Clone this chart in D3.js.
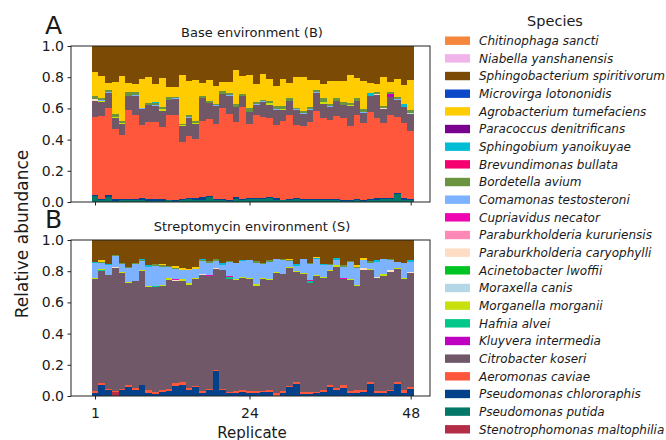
<!DOCTYPE html>
<html><head><meta charset="utf-8">
<script src="https://cdn.jsdelivr.net/npm/d3@7"></script>
<style>body{margin:0;background:#fff}svg{display:block}text{font-family:"DejaVu Sans",sans-serif;fill:#1a1a1a}</style>
</head><body><svg id="c" width="666" height="440"></svg>
<script>
// ---------------- data ----------------
const replicates = d3.range(1, 49);
const xTickValues = [1, 24, 48];
const yTickValues = [0, 0.2, 0.4, 0.6, 0.8, 1.0];
const panelTitles = ["Base environment (B)", "Streptomycin environment (S)"];
const panelLetters = ["A", "B"];

const species = ["Chitinophaga sancti","Niabella yanshanensis","Sphingobacterium spiritivorum","Microvirga lotononidis","Agrobacterium tumefaciens","Paracoccus denitrificans","Sphingobium yanoikuyae","Brevundimonas bullata","Bordetella avium","Comamonas testosteroni","Cupriavidus necator","Paraburkholderia kururiensis","Paraburkholderia caryophylli","Acinetobacter lwoffii","Moraxella canis","Morganella morganii","Hafnia alvei","Kluyvera intermedia","Citrobacter koseri","Aeromonas caviae","Pseudomonas chlororaphis","Pseudomonas putida","Stenotrophomonas maltophilia"];
const speciesColors = ["#f5873d","#f0b3ea","#7b4a05","#0a47c9","#ffcc00","#7a0090","#00bcd4","#f5006e","#6a9440","#7cb2ff","#ee05b0","#ff88b6","#ffdcc4","#00c423","#b5d8e6","#c8e00c","#00c88a","#c000c0","#705868","#ff573b","#03428a","#037868","#b52c46"];

// Base environment (B)
const base_putida = [0.040,0.015,0.035,0.008,0.010,0.012,0.015,0.010,0.008,0.008,0.008,0.010,0.005,0.015,0.018,0.012,0.015,0.030,0.010,0.015,0.008,0.020,0.015,0.018,0.018,0.020,0.028,0.015,0.010,0.012,0.020,0.010,0.012,0.010,0.015,0.010,0.012,0.008,0.005,0.015,0.005,0.010,0.012,0.020,0.020,0.050,0.010,0.012];
const base_chlororaphis = [0.008,0.003,0.010,0.012,0.012,0.008,0.006,0.015,0.010,0.010,0.010,0.006,0.006,0.006,0.010,0.012,0.020,0.008,0.008,0.006,0.006,0.012,0.006,0.008,0.005,0.006,0.005,0.010,0.006,0.008,0.005,0.012,0.008,0.008,0.006,0.010,0.010,0.006,0.008,0.006,0.006,0.008,0.015,0.008,0.006,0.006,0.015,0.006];
const base_aeromonas = [0.497,0.533,0.560,0.450,0.410,0.572,0.539,0.471,0.497,0.497,0.460,0.539,0.544,0.366,0.398,0.383,0.486,0.491,0.485,0.584,0.553,0.483,0.589,0.474,0.536,0.522,0.506,0.470,0.504,0.539,0.470,0.465,0.494,0.565,0.519,0.508,0.532,0.526,0.475,0.537,0.498,0.560,0.513,0.480,0.532,0.490,0.483,0.439];
const base_citrobacter = [0.105,0.089,0.095,0.066,0.066,0.086,0.118,0.098,0.107,0.100,0.107,0.097,0.107,0.100,0.110,0.093,0.144,0.103,0.112,0.087,0.113,0.096,0.068,0.077,0.065,0.093,0.085,0.093,0.068,0.086,0.093,0.079,0.078,0.116,0.090,0.081,0.091,0.080,0.125,0.087,0.064,0.099,0.148,0.090,0.115,0.110,0.101,0.109];
const base_kluyvera = [0,0,0,0,0,0,0,0,0,0,0,0,0,0,0,0,0,0,0,0,0,0,0,0,0,0,0,0,0,0,0,0,0,0,0,0,0,0,0,0,0,0,0,0,0.017,0,0,0];
const base_morganella = [0,0.008,0,0.008,0.008,0,0,0,0,0,0.012,0,0,0.008,0.004,0.004,0,0,0,0,0,0,0,0,0,0,0.008,0,0.006,0,0,0,0,0,0.010,0,0,0,0.006,0,0,0,0,0,0,0,0,0];
const base_moraxella = [0,0,0,0,0,0,0,0,0,0,0,0,0,0,0,0,0,0,0,0,0,0,0,0,0,0,0,0,0,0,0,0,0,0,0,0,0,0,0,0,0,0,0,0,0,0,0,0.005];
const base_caryophylli = [0.008,0,0,0,0,0,0.004,0,0,0,0,0,0,0,0,0,0,0,0,0,0,0,0,0,0,0,0,0,0,0,0,0,0,0,0,0,0,0,0,0,0,0,0.004,0.004,0,0,0,0];
const base_comamonas = [0.004,0.004,0.006,0.004,0.000,0.003,0.004,0.006,0.003,0.005,0.000,0.003,0.003,0.000,0.004,0.000,0.003,0.000,0.004,0.003,0.004,0.000,0.004,0.003,0.004,0.004,0.004,0.005,0.000,0.000,0.010,0.005,0.004,0.004,0.004,0.004,0.003,0.004,0.000,0.003,0.006,0.003,0.000,0.000,0.004,0.004,0.000,0.000];
const base_bordetella = [0.015,0.012,0.012,0.015,0.015,0.025,0.022,0.003,0.010,0.012,0.012,0.018,0.010,0.008,0.012,0.015,0.012,0.015,0.010,0.015,0.012,0.015,0.012,0.025,0.015,0.012,0.012,0.020,0.020,0.020,0.003,0.015,0.012,0.016,0.020,0.016,0.020,0.020,0.018,0.020,0.014,0.000,0.016,0.016,0.010,0.012,0.000,0.020];
const base_sphingobium = [0,0,0.003,0,0,0,0,0,0,0.006,0,0,0,0,0.003,0,0,0,0,0,0,0,0,0,0,0,0,0,0,0,0,0,0,0,0,0,0,0,0,0,0,0.017,0,0,0,0,0.017,0];
const base_agrobacterium = [0.158,0.141,0.044,0.207,0.287,0.057,0.049,0.187,0.165,0.120,0.186,0.065,0.060,0.311,0.219,0.262,0.080,0.133,0.116,0.061,0.075,0.219,0.116,0.211,0.116,0.166,0.142,0.128,0.176,0.098,0.199,0.214,0.176,0.061,0.095,0.145,0.108,0.130,0.179,0.127,0.181,0.066,0.051,0.182,0.066,0.118,0.126,0.189];
const base_sphingobacterium = [0.165,0.195,0.235,0.230,0.192,0.237,0.243,0.210,0.200,0.242,0.205,0.262,0.265,0.186,0.222,0.219,0.240,0.220,0.255,0.229,0.229,0.155,0.190,0.184,0.241,0.177,0.210,0.259,0.210,0.237,0.200,0.200,0.216,0.220,0.241,0.226,0.224,0.226,0.184,0.205,0.226,0.237,0.241,0.200,0.230,0.210,0.248,0.220];

// Streptomycin environment (S)
const strep_stenotrophomonas = [0,0,0,0.025,0,0,0,0,0,0,0,0,0,0,0,0,0,0,0,0,0,0,0,0,0,0,0,0,0,0,0,0,0,0,0,0,0,0,0,0,0,0,0,0,0,0,0,0];
const strep_putida = [0,0,0,0,0,0,0,0,0,0,0,0,0,0,0,0,0,0,0,0,0,0,0.003,0,0,0.003,0,0,0,0,0,0,0,0,0,0,0,0,0.003,0,0,0,0,0,0,0,0,0];
const strep_chlororaphis = [0.020,0.070,0.040,0,0.040,0.058,0.040,0.070,0.020,0.015,0.025,0.035,0.064,0.070,0.040,0.055,0.020,0.040,0.160,0.040,0.022,0.020,0.025,0.022,0.020,0.020,0.025,0.000,0.020,0.055,0.080,0.015,0.015,0.020,0.025,0.057,0.040,0.053,0.015,0.020,0.025,0.080,0.020,0.020,0.030,0.080,0.020,0.043];
const strep_aeromonas = [0.012,0.013,0.002,0.010,0.005,0.012,0.013,0.002,0.018,0.012,0.015,0.010,0.019,0.020,0.010,0.012,0.010,0.005,0.004,0.005,0.006,0.012,0.010,0.008,0.010,0.012,0.015,0.020,0.010,0.010,0.010,0.008,0.012,0.008,0.012,0.013,0.010,0.020,0.015,0.018,0.015,0.010,0.010,0.012,0.010,0.012,0.018,0.012];
const strep_citrobacter = [0.716,0.720,0.734,0.788,0.745,0.656,0.682,0.731,0.662,0.669,0.665,0.699,0.654,0.648,0.662,0.685,0.746,0.725,0.651,0.761,0.724,0.713,0.718,0.718,0.675,0.713,0.701,0.770,0.752,0.758,0.705,0.761,0.699,0.741,0.719,0.730,0.779,0.675,0.711,0.667,0.770,0.720,0.724,0.737,0.755,0.720,0.710,0.731];
const strep_hafnia = [0,0.004,0,0,0,0,0,0,0,0.006,0,0,0,0,0,0,0,0,0,0,0.010,0,0,0,0,0,0,0,0,0,0,0,0.010,0,0,0,0,0,0,0,0,0,0,0,0,0,0,0];
const strep_morganella = [0.006,0.006,0,0,0.006,0.006,0.005,0.006,0.004,0,0.006,0.010,0,0.010,0.010,0.004,0,0,0,0,0,0.008,0.008,0.008,0.015,0.008,0.010,0.006,0,0.005,0.004,0.004,0,0.006,0.008,0.006,0.008,0,0.004,0.008,0,0.004,0,0.015,0,0.006,0.008,0];
const strep_caryophylli = [0,0,0,0.006,0,0,0,0,0.004,0,0,0,0.008,0,0,0,0.006,0,0.006,0.003,0,0,0,0,0,0,0,0,0,0,0,0,0,0,0,0,0,0,0,0,0.008,0,0.008,0,0.010,0,0,0.008];
const strep_cupriavidus = [0,0,0,0,0,0,0,0,0,0.006,0,0,0.004,0.004,0,0,0,0.006,0,0,0.006,0,0,0,0,0,0,0,0,0,0,0,0.006,0,0,0,0,0.006,0,0,0,0,0,0,0,0,0,0];
const strep_comamonas = [0.097,0.039,0.066,0.069,0.051,0.087,0.104,0.056,0.122,0.128,0.118,0.075,0.065,0.055,0.083,0.056,0.084,0.079,0.047,0.031,0.091,0.102,0.100,0.114,0.135,0.089,0.111,0.084,0.090,0.038,0.036,0.092,0.105,0.101,0.074,0.032,0.038,0.076,0.111,0.105,0.052,0.041,0.098,0.092,0.065,0.042,0.094,0.068];
const strep_bordetella = [0,0.004,0,0.006,0.008,0.006,0.006,0.008,0,0.008,0.008,0.006,0.006,0,0,0.004,0.006,0.010,0.008,0,0.006,0,0,0,0.010,0.010,0.010,0,0.004,0.008,0,0,0.008,0,0,0.010,0,0.008,0.006,0.010,0,0.010,0,0,0.010,0,0,0];
const strep_sphingobium = [0.008,0.004,0.006,0,0,0,0,0.003,0.008,0,0,0,0,0,0,0,0.008,0,0,0.010,0,0,0.008,0,0,0,0,0,0,0,0.010,0,0,0.008,0.010,0,0.010,0,0,0,0,0,0.010,0,0,0,0,0.010];
const strep_agrobacterium = [0,0.012,0,0,0,0,0,0,0,0,0.008,0,0.015,0.015,0.010,0.012,0,0,0,0,0,0,0,0,0,0,0,0,0,0.006,0,0,0,0.006,0,0,0,0,0,0.012,0.015,0,0,0,0,0,0,0];
const strep_sphingobacterium = [0.141,0.128,0.152,0.096,0.145,0.175,0.150,0.124,0.162,0.156,0.155,0.165,0.165,0.178,0.185,0.172,0.120,0.135,0.124,0.150,0.135,0.145,0.128,0.130,0.135,0.145,0.128,0.120,0.124,0.120,0.155,0.120,0.145,0.110,0.152,0.152,0.115,0.162,0.135,0.160,0.115,0.135,0.130,0.124,0.120,0.140,0.150,0.128];

// map species -> series for each panel
const baseSeries = new Map([
  ["Pseudomonas putida", base_putida], ["Pseudomonas chlororaphis", base_chlororaphis],
  ["Aeromonas caviae", base_aeromonas], ["Citrobacter koseri", base_citrobacter],
  ["Kluyvera intermedia", base_kluyvera], ["Morganella morganii", base_morganella],
  ["Moraxella canis", base_moraxella], ["Paraburkholderia caryophylli", base_caryophylli],
  ["Comamonas testosteroni", base_comamonas], ["Bordetella avium", base_bordetella],
  ["Sphingobium yanoikuyae", base_sphingobium], ["Agrobacterium tumefaciens", base_agrobacterium],
  ["Sphingobacterium spiritivorum", base_sphingobacterium]]);
const strepSeries = new Map([
  ["Stenotrophomonas maltophilia", strep_stenotrophomonas], ["Pseudomonas putida", strep_putida],
  ["Pseudomonas chlororaphis", strep_chlororaphis], ["Aeromonas caviae", strep_aeromonas],
  ["Citrobacter koseri", strep_citrobacter], ["Hafnia alvei", strep_hafnia],
  ["Morganella morganii", strep_morganella], ["Paraburkholderia caryophylli", strep_caryophylli],
  ["Cupriavidus necator", strep_cupriavidus], ["Comamonas testosteroni", strep_comamonas],
  ["Bordetella avium", strep_bordetella], ["Sphingobium yanoikuyae", strep_sphingobium],
  ["Agrobacterium tumefaciens", strep_agrobacterium], ["Sphingobacterium spiritivorum", strep_sphingobacterium]]);

function buildTable(seriesMap) {
  return replicates.map((r, i) => {
    const row = {replicate: r};
    species.forEach(s => { const a = seriesMap.get(s); row[s] = a ? a[i] : 0; });
    return row;
  });
}

// ---------------- drawing ----------------
const svg = d3.select("#c");
const color = d3.scaleOrdinal(species, speciesColors);
const stackKeys = species.slice().reverse();
const stack = d3.stack().keys(stackKeys);

const frameLeft = 71, frameRight = 430;
const x = d3.scaleLinear().domain([1, 48]).range([95, 410.7]);
const bw = x(2) - x(1);

const panels = [
  {table: buildTable(baseSeries), top: 46, bottom: 202, showX: false},
  {table: buildTable(strepSeries), top: 240, bottom: 396, showX: true}
];

panels.forEach((p, pi) => {
  const y = d3.scaleLinear().domain([0, 1]).range([p.bottom, p.top]);
  const g = svg.append("g");
  const layers = stack(p.table);
  g.append("g").attr("shape-rendering", "crispEdges")
    .selectAll("g.layer").data(layers).join("g")
    .attr("fill", d => color(d.key))
    .selectAll("rect").data(d => d.filter(e => e[1] - e[0] > 0)).join("rect")
    .attr("x", d => x(d.data.replicate) - bw / 2)
    .attr("width", bw)
    .attr("y", d => y(Math.min(1, d[1])))
    .attr("height", d => Math.max(0, y(d[0]) - y(Math.min(1, d[1]))));

  // frame
  g.append("rect").attr("x", frameLeft).attr("y", p.top)
    .attr("width", frameRight - frameLeft).attr("height", p.bottom - p.top)
    .attr("fill", "none").attr("stroke", "#222").attr("stroke-width", 1);

  // y axis
  const ya = g.append("g").attr("transform", `translate(${frameLeft},0)`)
    .call(d3.axisLeft(y).tickValues(yTickValues).tickFormat(d3.format(".1f")).tickSize(3.5).tickPadding(3.5));
  ya.select(".domain").remove();
  ya.selectAll("text").style("font-size", "14px").attr("fill", "#1a1a1a");
  ya.selectAll("line").attr("stroke", "#222");

  // x axis
  const xa = g.append("g").attr("transform", `translate(0,${p.bottom})`)
    .call(d3.axisBottom(x).tickValues(xTickValues).tickSize(3.5));
  xa.select(".domain").remove();
  xa.selectAll("line").attr("stroke", "#222");
  if (p.showX) {
    xa.selectAll("text").style("font-size", "14px").attr("y", 12).attr("fill", "#1a1a1a");
  } else {
    xa.selectAll("text").remove();
  }

  // title & letter
  svg.append("text").attr("x", 252).attr("y", p.top - 9).attr("text-anchor", "middle")
    .style("font-size", "13px").text(panelTitles[pi]);
  svg.append("text").attr("x", 45).attr("y", p.top - 12)
    .style("font-size", "25px").text(panelLetters[pi]);
});

svg.append("text").attr("x", 252).attr("y", 438).attr("text-anchor", "middle")
  .style("font-size", "15px").text("Replicate");
svg.append("text").attr("transform", "translate(28,234) rotate(-90)").attr("text-anchor", "middle")
  .style("font-size", "17px").text("Relative abundance");

// legend
const leg = svg.append("g");
leg.append("text").attr("x", 555).attr("y", 26).attr("text-anchor", "middle")
  .style("font-size", "14.5px").text("Species");
const rowY = d3.scalePoint().domain(species).range([40.7, 429.3]);
const items = leg.selectAll("g.item").data(species).join("g")
  .attr("transform", d => `translate(0,${rowY(d)})`);
items.append("rect").attr("x", 445).attr("y", -4.2).attr("width", 25).attr("height", 8.4)
  .attr("fill", d => color(d));
items.append("text").attr("x", 479).attr("y", 0).attr("dy", "0.35em")
  .style("font-size", "12px").style("font-style", "italic").text(d => d);
</script></body></html>
